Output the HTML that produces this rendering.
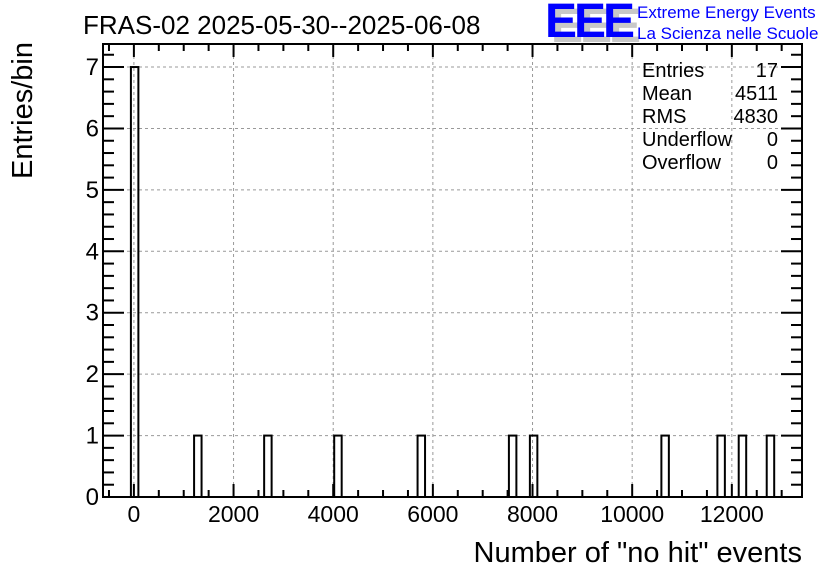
<!DOCTYPE html>
<html><head><meta charset="utf-8"><style>
body{margin:0;background:#fff}
svg{display:block;font-family:"Liberation Sans",Arial,sans-serif}
</style></head><body>
<svg id="c" width="836" height="572"></svg>
<script>
const binLefts=[-60,1208,2614,4020,5693,7526,7947,10586,11710,12138,12700];
const binCounts=[7,1,1,1,1,1,1,1,1,1,1];
const binWidth=150;
const xTicks=[0,2000,4000,6000,8000,10000,12000];
const yTicks=[0,1,2,3,4,5,6,7];
const statsLabels=["Entries","Mean","RMS","Underflow","Overflow"];
const statsValues=["17","4511","4830","0","0"];

const L=103,R=802,T=44,B=497;
const xMin=-620,xMax=13408,yMin=0,yMax=7.375;
const X=v=>L+(v-xMin)/(xMax-xMin)*(R-L);
const Y=v=>B-(v-yMin)/(yMax-yMin)*(B-T);
const svg=document.getElementById('c');
const NS='http://www.w3.org/2000/svg';
function mk(tag,attrs,parent){const e=document.createElementNS(NS,tag);for(const k in attrs)e.setAttribute(k,attrs[k]);(parent||svg).appendChild(e);return e;}

for(const t of xTicks){const g=mk('line',{x1:X(t),x2:X(t),y1:T,y2:B,stroke:'#999','stroke-dasharray':'3,3','stroke-width':1});

}
for(const t of yTicks){if(t===0)continue;const g=mk('line',{x1:L,x2:R,y1:Y(t),y2:Y(t),stroke:'#999','stroke-dasharray':'3,3','stroke-width':1});

}

binLefts.forEach((b,i)=>{const r=mk('rect',{x:X(b),y:Y(binCounts[i]),width:X(b+binWidth)-X(b),height:Y(0)-Y(binCounts[i]),fill:'none',stroke:'#000','stroke-width':2});

});

const f=mk('rect',{x:L,y:T,width:R-L,height:B-T,fill:'none',stroke:'#000','stroke-width':2});



for(let v=-500;v<=13400;v+=500){const maj=v%2000===0;const len=maj?13:7;
mk('line',{x1:X(v),x2:X(v),y1:B,y2:B-len,stroke:'#000','stroke-width':2});
mk('line',{x1:X(v),x2:X(v),y1:T,y2:T+len,stroke:'#000','stroke-width':2});}
for(const t of xTicks){const tx=mk('text',{x:X(t),y:522,'font-size':23,'text-anchor':'middle'});tx.textContent=t;

}
for(let k=0;k<=36;k++){const v=k*0.2;if(v>yMax)break;const maj=k%5===0;const len=maj?21:11;
mk('line',{x1:L,x2:L+len,y1:Y(v),y2:Y(v),stroke:'#000','stroke-width':2});
mk('line',{x1:R,x2:R-len,y1:Y(v),y2:Y(v),stroke:'#000','stroke-width':2});}
for(const t of yTicks){const tx=mk('text',{x:99,y:Y(t)+8,'font-size':24,'text-anchor':'end'});tx.textContent=t;

}

let t=mk('text',{x:83,y:34,'font-size':26});t.textContent='FRAS-02 2025-05-30--2025-06-08';

t=mk('text',{x:802,y:562,'font-size':29,'text-anchor':'end'});t.textContent='Number of "no hit" events';

t=mk('text',{x:0,y:0,'font-size':29,'text-anchor':'end',transform:'translate(32,42) rotate(-90)'});t.textContent='Entries/bin';


statsLabels.forEach((s,i)=>{const y=77+i*23;
let a=mk('text',{x:642,y:y,'font-size':20});a.textContent=s;

let b=mk('text',{x:778,y:y,'font-size':20,'text-anchor':'end'});b.textContent=statsValues[i];
});

let g=mk('g',{});
let sh=mk('text',{x:551,y:42,'font-size':48,fill:'#c8c8c8','font-weight':'bold','letter-spacing':'-3'},g);sh.textContent='EEE';
let lo=mk('text',{x:545,y:37,'font-size':48,fill:'#0000ff','font-weight':'bold','letter-spacing':'-3'},g);lo.textContent='EEE';
let l1=mk('text',{x:637,y:18,'font-size':17,fill:'#0000ff'},g);l1.textContent='Extreme Energy Events';
let l2=mk('text',{x:637,y:39,'font-size':17,fill:'#0000ff'},g);l2.textContent='La Scienza nelle Scuole';
</script>
</body></html>
